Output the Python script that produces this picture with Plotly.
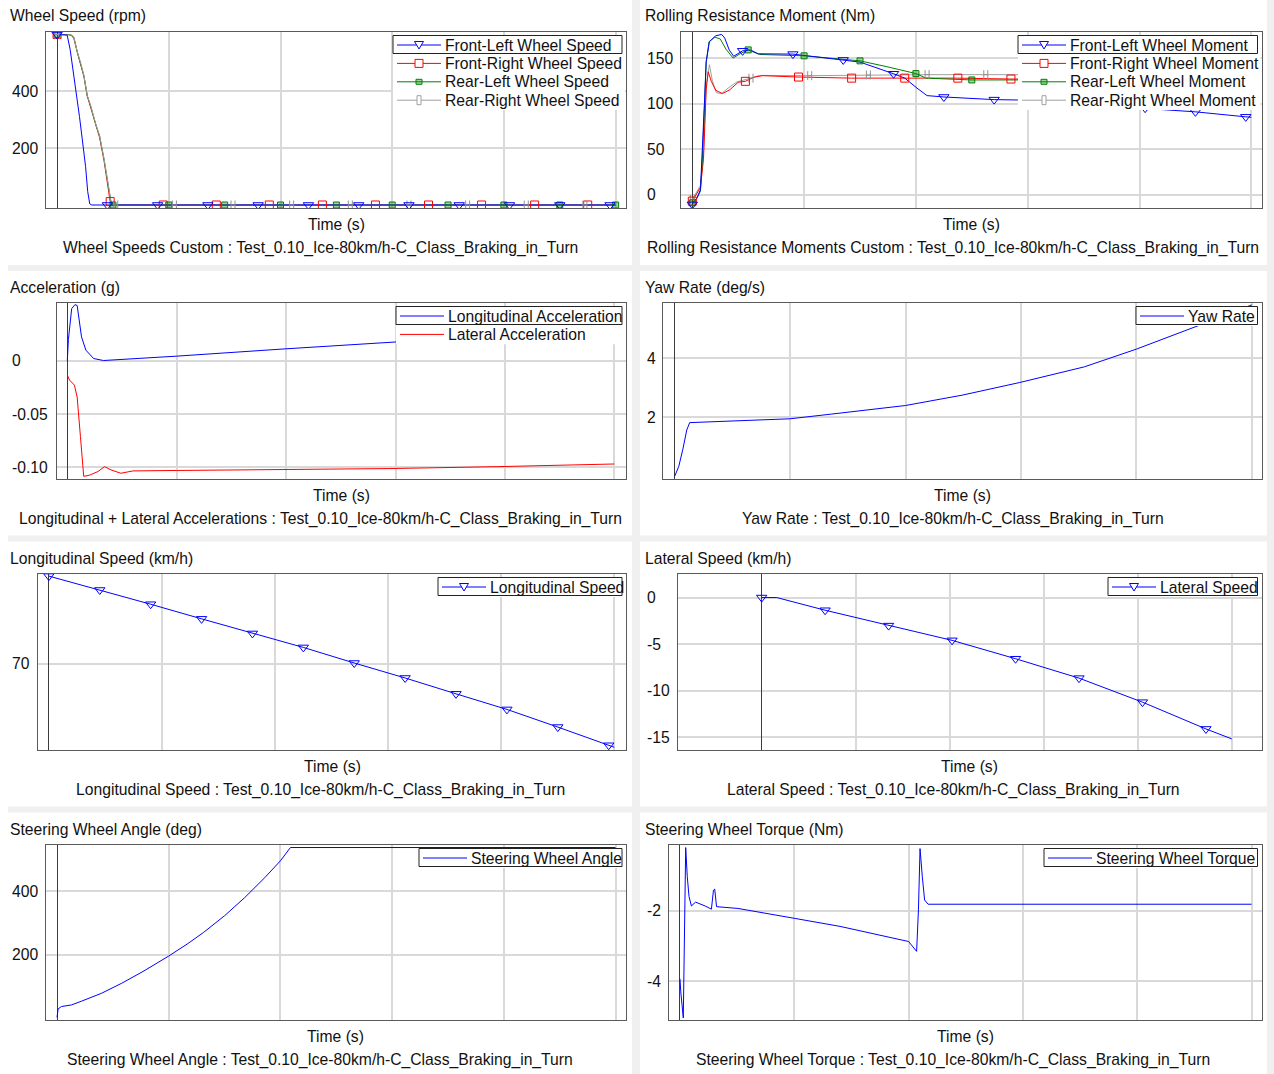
import numpy as np
import plotly.graph_objects as go

W, H = 1274, 1074
FONT = "Arial, 'Liberation Sans', sans-serif"
BLUE, RED, GREEN, GREY = "#0000ff", "#ff0000", "#008000", "#a0a0a0"
RUN = "Test_0.10_Ice-80km/h-C_Class_Braking_in_Turn"

# ---------------- data ----------------
# Wheel speeds (rpm)
ws_fl_t = [0, 0.05, 0.09, 0.117, 0.146, 0.175, 0.2, 0.226, 0.255, 0.274, 0.292, 0.31,
           0.45, 0.9, 1.35, 1.8, 2.25, 2.7, 3.15, 3.6, 4.05, 4.5, 4.95, 5.0]
ws_fl_v = [600, 600, 598, 547, 471, 394, 312, 229, 135, 47, 4, 0,
           0, 0, 0, 0, 0, 0, 0, 0, 0, 0, 0, 0]
ws_fl_mk = [0, 0.45, 0.9, 1.35, 1.8, 2.25, 2.7, 3.15, 3.6, 4.05, 4.5, 4.95]

ws_fr_t = [0, 0.1, 0.13, 0.15, 0.18, 0.21, 0.24, 0.27, 0.3, 0.35, 0.38, 0.42, 0.46, 0.475, 0.49,
           0.95, 1.425, 1.9, 2.375, 2.85, 3.325, 3.8, 4.275, 4.75, 5.0]
ws_fr_v = [600, 600, 596, 586, 540, 498, 452, 383, 345, 274, 238, 156, 62, 12, 0,
           0, 0, 0, 0, 0, 0, 0, 0, 0, 0]
ws_fr_mk = [0, 0.475, 0.95, 1.425, 1.9, 2.375, 2.85, 3.325, 3.8, 4.275, 4.75]

ws_rl_t = [0, 0.1, 0.13, 0.15, 0.18, 0.21, 0.24, 0.27, 0.3, 0.35, 0.38, 0.42, 0.46, 0.48, 0.5,
           1.0, 1.5, 2.0, 2.5, 3.0, 3.5, 4.0, 4.5, 5.0]
ws_rl_v = [600, 600, 597, 590, 538, 500, 455, 384, 349, 278, 243, 161, 67, 16, 0,
           0, 0, 0, 0, 0, 0, 0, 0, 0]
ws_rl_mk = [0, 0.5, 1.0, 1.5, 2.0, 2.5, 3.0, 3.5, 4.0, 4.5, 5.0]

ws_rr_t = [0, 0.1, 0.13, 0.15, 0.18, 0.21, 0.24, 0.27, 0.3, 0.35, 0.38, 0.42, 0.46, 0.48, 0.5,
           0.525, 1.05, 1.575, 2.1, 2.625, 3.15, 3.675, 4.2, 4.725, 5.0]
ws_rr_v = [600, 600, 598, 591, 540, 502, 456, 386, 350, 280, 245, 163, 69, 18, 0,
           0, 0, 0, 0, 0, 0, 0, 0, 0, 0]
ws_rr_mk = [0, 0.525, 1.05, 1.575, 2.1, 2.625, 3.15, 3.675, 4.2, 4.725]

# Rolling resistance moments (Nm)
rm_fl_t = [0, 0.044, 0.073, 0.09, 0.11, 0.124, 0.153, 0.21, 0.263, 0.29, 0.33, 0.37, 0.45, 0.52,
           0.59, 0.9, 1.35, 1.5, 1.8, 1.9, 2.01, 2.1, 2.25, 2.7, 2.91, 3.15, 3.6, 4.05, 4.5, 4.95, 5.0]
rm_fl_v = [-10.6, -3.3, 5.8, 46, 104, 146, 168, 174.5, 176, 172, 159, 152, 158, 159,
           154.7, 154.4, 148, 145.6, 132.8, 128, 117, 108.8, 107.3, 104.4, 104, 102, 99, 95, 91, 85.5, 85]
rm_fl_mk = [0, 0.45, 0.9, 1.35, 1.8, 2.25, 2.7, 3.15, 3.6, 4.05, 4.5, 4.95]

rm_fr_t = [0, 0.04, 0.073, 0.1, 0.124, 0.142, 0.17, 0.21, 0.27, 0.336, 0.41, 0.475, 0.55, 0.63,
           0.95, 1.425, 1.9, 2.375, 2.85, 3.325, 3.8, 4.275, 4.75, 5.0]
rm_fr_v = [-7, 2, 8, 39, 115, 135, 124.5, 114.6, 111, 115.3, 123.4, 124.5, 129, 130.7,
           129.2, 128, 128, 128, 127, 127, 127, 127, 127, 127]
rm_fr_mk = [0, 0.475, 0.95, 1.425, 1.9, 2.375, 2.85, 3.325, 3.8, 4.275, 4.75]

rm_rl_t = [0, 0.04, 0.073, 0.09, 0.11, 0.124, 0.15, 0.2, 0.25, 0.3, 0.365, 0.43, 0.5, 0.6,
           1.0, 1.5, 1.76, 2.0, 2.09, 2.5, 3.0, 3.5, 4.0, 4.5, 5.0]
rm_rl_v = [-9, -4, 4, 40, 100, 145, 168, 173, 171, 160, 150, 155, 159, 154,
           152.5, 147, 140, 133, 128, 126, 126, 126, 126, 126, 126]
rm_rl_mk = [0, 0.5, 1.0, 1.5, 2.0, 2.5, 3.0, 3.5, 4.0, 4.5, 5.0]

rm_rr_t = [0, 0.04, 0.073, 0.1, 0.124, 0.153, 0.18, 0.215, 0.26, 0.32, 0.4, 0.525, 0.6,
           1.05, 1.575, 2.1, 2.625, 3.15, 3.675, 4.2, 4.725, 5.0]
rm_rr_v = [-5, 3, 10, 45, 120, 142.7, 125, 112, 111, 117, 124, 128, 131,
           130.7, 131.4, 131.8, 131.8, 131.6, 131.5, 131.5, 131.5, 131.5]
rm_rr_mk = [0, 0.525, 1.05, 1.575, 2.1, 2.625, 3.15, 3.675, 4.2, 4.725]

# Accelerations (g)
acc_lon_t = [0, 0.01, 0.04, 0.07, 0.09, 0.13, 0.17, 0.24, 0.33, 1.0, 2.0, 3.0, 4.0, 5.0]
acc_lon_v = [0, 0.02, 0.049, 0.0528, 0.052, 0.0225, 0.010, 0.0022, 0.0003, 0.0044, 0.0113,
             0.0178, 0.0243, 0.0305]
acc_lat_t = [0, 0.02, 0.065, 0.09, 0.12, 0.15, 0.2, 0.28, 0.34, 0.4, 0.49, 0.6, 1.0, 1.59,
             2.0, 2.94, 3.93, 5.0]
acc_lat_v = [-0.0134, -0.018, -0.0228, -0.034, -0.071, -0.1085, -0.1075, -0.104, -0.0994,
             -0.1025, -0.1056, -0.1034, -0.1030, -0.1025, -0.1020, -0.1012, -0.0994, -0.0969]

# Yaw rate (deg/s)
yaw_t = [0, 0.036, 0.07, 0.105, 0.13, 0.37, 1.0, 1.36, 2.0, 2.49, 2.99, 3.55, 4.0, 4.58, 5.0]
yaw_v = [0, 0.34, 0.9, 1.57, 1.82, 1.85, 1.95, 2.11, 2.40, 2.75, 3.18, 3.71, 4.31, 5.17, 5.81]

# Longitudinal speed (km/h)
vx_t = [0, 0.45, 0.9, 1.35, 1.8, 2.25, 2.7, 3.15, 3.6, 4.05, 4.5, 4.95, 5.0]
vx_v = [79.81, 78.26, 76.67, 75.04, 73.41, 71.85, 70.11, 68.44, 66.67, 64.93, 62.96, 60.93, 60.7]
vx_mk = [0, 0.45, 0.9, 1.35, 1.8, 2.25, 2.7, 3.15, 3.6, 4.05, 4.5, 4.95]

# Lateral speed (km/h)
vy_t = [0, 0.16, 0.675, 1.35, 2.025, 2.7, 3.375, 4.05, 4.725, 5.0]
vy_v = [0, 0, -1.36, -3.01, -4.59, -6.56, -8.64, -11.22, -14.09, -15.16]
vy_mk = [0, 0.675, 1.35, 2.025, 2.7, 3.375, 4.05, 4.725]

# Steering wheel angle (deg)
swa_t = [0, 0.01, 0.04, 0.13, 0.22, 0.4, 0.58, 0.77, 1.0, 1.17, 1.31, 1.5, 1.68, 1.86, 2.0,
         2.09, 5.0]
swa_v = [3, 29.5, 37, 42, 54, 79, 110.5, 147.5, 196, 235, 270, 323, 380, 443, 496, 538, 538]

# Steering wheel torque (Nm)
swt_t = [0, 0.007, 0.029, 0.04, 0.05, 0.064, 0.079, 0.1, 0.136, 0.22, 0.275, 0.293, 0.304,
         0.32, 0.507, 1.0, 1.4, 2.0, 2.07, 2.086, 2.10, 2.12, 2.14, 2.17, 5.0]
swt_v = [-3.93, -4.3, -5.04, -2.9, -0.2, -1.03, -1.59, -1.86, -1.75, -1.86, -1.95, -1.41, -1.38,
         -1.88, -1.93, -2.21, -2.44, -2.87, -3.15, -1.97, -0.23, -1.03, -1.69, -1.81, -1.81]

# ---------------- panel layout (pixel geometry) ----------------
panels = [
    dict(box=(46, 626, 31.5, 208), xr=(-0.0994, 5.093), yr=(-10.6, 610.6),
         yt=[200, 400], ytt=["200", "400"], lab=12, tx=10, cx=320,
         title="Wheel Speed (rpm)", sub="Wheel Speeds Custom : " + RUN, leg=393,
         series=[("Front-Left Wheel Speed", ws_fl_t, ws_fl_v, BLUE, "tri", ws_fl_mk),
                 ("Front-Right Wheel Speed", ws_fr_t, ws_fr_v, RED, "sq", ws_fr_mk),
                 ("Rear-Left Wheel Speed", ws_rl_t, ws_rl_v, GREEN, "gsq", ws_rl_mk),
                 ("Rear-Right Wheel Speed", ws_rr_t, ws_rr_v, GREY, "bar", ws_rr_mk)],
         order=[1, 2, 3, 0]),
    dict(box=(680.5, 1261.5, 31.5, 208), xr=(-0.1055, 5.091), yr=(-14.6, 179.2),
         yt=[0, 50, 100, 150], ytt=["0", "50", "100", "150"], lab=647, tx=645, cx=953,
         title="Rolling Resistance Moment (Nm)", sub="Rolling Resistance Moments Custom : " + RUN,
         leg=1018,
         series=[("Front-Left Wheel Moment", rm_fl_t, rm_fl_v, BLUE, "tri", rm_fl_mk),
                 ("Front-Right Wheel Moment", rm_fr_t, rm_fr_v, RED, "sq", rm_fr_mk),
                 ("Rear-Left Wheel Moment", rm_rl_t, rm_rl_v, GREEN, "gsq", rm_rl_mk),
                 ("Rear-Right Wheel Moment", rm_rr_t, rm_rr_v, GREY, "bar", rm_rr_mk)],
         order=[3, 1, 2, 0]),
    dict(box=(57, 626, 302.5, 479), xr=(-0.0942, 5.107), yr=(-0.111, 0.0548),
         yt=[-0.10, -0.05, 0], ytt=["-0.10", "-0.05", "0"], lab=12, tx=10, cx=320,
         title="Acceleration (g)", sub="Longitudinal + Lateral Accelerations : " + RUN, leg=396,
         series=[("Longitudinal Acceleration", acc_lon_t, acc_lon_v, BLUE, None, None),
                 ("Lateral Acceleration", acc_lat_t, acc_lat_v, RED, None, None)],
         order=[0, 1]),
    dict(box=(663, 1261.5, 302.5, 479), xr=(-0.101, 5.084), yr=(-0.09, 5.89),
         yt=[2, 4], ytt=["2", "4"], lab=647, tx=645, cx=953,
         title="Yaw Rate (deg/s)", sub="Yaw Rate : " + RUN, leg=1136,
         series=[("Yaw Rate", yaw_t, yaw_v, BLUE, None, None)], order=[0]),
    dict(box=(38, 626, 573.5, 750), xr=(-0.096, 5.103), yr=(60.4, 80.1),
         yt=[70], ytt=["70"], lab=12, tx=10, cx=320,
         title="Longitudinal Speed (km/h)", sub="Longitudinal Speed : " + RUN, leg=438,
         series=[("Longitudinal Speed", vx_t, vx_v, BLUE, "tri", vx_mk)], order=[0]),
    dict(box=(678, 1261.5, 573.5, 750), xr=(-0.890, 5.316), yr=(-16.35, 2.58),
         yt=[-15, -10, -5, 0], ytt=["-15", "-10", "-5", "0"], lab=647, tx=645, cx=953,
         title="Lateral Speed (km/h)", sub="Lateral Speed : " + RUN, leg=1108,
         series=[("Lateral Speed", vy_t, vy_v, BLUE, "tri", vy_mk)], order=[0]),
    dict(box=(45.5, 626, 844.5, 1020), xr=(-0.103, 5.094), yr=(-5.4, 547.5),
         yt=[200, 400], ytt=["200", "400"], lab=12, tx=10, cx=320,
         title="Steering Wheel Angle (deg)", sub="Steering Wheel Angle : " + RUN, leg=419,
         series=[("Steering Wheel Angle", swa_t, swa_v, BLUE, None, None)], order=[0]),
    dict(box=(669, 1261.5, 844.5, 1020), xr=(-0.096, 5.087), yr=(-5.10, -0.113),
         yt=[-4, -2], ytt=["-4", "-2"], lab=647, tx=645, cx=953,
         title="Steering Wheel Torque (Nm)", sub="Steering Wheel Torque : " + RUN, leg=1044,
         series=[("Steering Wheel Torque", swt_t, swt_v, BLUE, None, None)], order=[0]),
]

# annotations carry a small inner padding; left-anchored texts are nudged back by it
PAD = 2


def px(x):
    return x / W


def py(y):
    return 1 - y / H


def at_marks(t, v, marks):
    t = np.asarray(t, float)
    v = np.asarray(v, float)
    idx = [int(np.argmin(np.abs(t - m))) for m in marks]
    return t[idx], v[idx]


fig = go.Figure()
shapes, annotations = [], []
layout = {}

txt = dict(family=FONT, size=15.7, color="#111111")

# light grey gutters between the panels
for (x0, x1, y0, y1) in [(632, 640, 0, H), (8, W, 265, 271), (8, W, 535.5, 541.5),
                         (8, W, 806.5, 812.5), (1267, W, 0, H)]:
    shapes.append(dict(type="rect", xref="paper", yref="paper", x0=px(x0), x1=px(x1),
                       y0=py(y1), y1=py(y0), fillcolor="#f0f0f0", line=dict(width=0),
                       layer="below"))

marker_style = {
    "tri": dict(symbol="triangle-down-open", size=9, color=BLUE, line=dict(width=1)),
    "sq": dict(symbol="square-open", size=8, color=RED, line=dict(width=1)),
    "gsq": dict(symbol="square", size=6, color="rgba(0,128,0,0.35)",
                line=dict(color=GREEN, width=1)),
}

for i, p in enumerate(panels, start=1):
    xn = "x" if i == 1 else f"x{i}"
    yn = "y" if i == 1 else f"y{i}"
    xl = "xaxis" if i == 1 else f"xaxis{i}"
    yl = "yaxis" if i == 1 else f"yaxis{i}"
    bl, br, bt, bb = p["box"]

    layout[xl] = dict(domain=[px(bl), px(br)], range=list(p["xr"]), anchor=yn,
                      tickvals=[1, 2, 3, 4, 5], showticklabels=False, ticks="",
                      showgrid=True, gridcolor="#d9d9d9", gridwidth=1.5,
                      zeroline=True, zerolinecolor="#3c3c3c", zerolinewidth=1,
                      showline=True, mirror=True, linecolor="#5a5a5a", linewidth=1,
                      fixedrange=True)
    layout[yl] = dict(domain=[py(bb), py(bt)], range=list(p["yr"]), anchor=xn,
                      tickvals=p["yt"], showticklabels=False, ticks="",
                      showgrid=True, gridcolor="#d9d9d9", gridwidth=1.5,
                      zeroline=False, showline=True, mirror=True, linecolor="#5a5a5a",
                      linewidth=1, fixedrange=True)

    # width of one pixel in time units, used for the narrow rectangle symbols
    t_per_px = (p["xr"][1] - p["xr"][0]) / (br - bl)

    # curves
    for k in p["order"]:
        name, t, v, col, mk, marks = p["series"][k]
        fig.add_trace(go.Scatter(x=t, y=v, mode="lines", name=name,
                                 line=dict(color=col, width=1), xaxis=xn, yaxis=yn,
                                 showlegend=False, hoverinfo="skip"))
    # symbols on the curves
    for k in p["order"]:
        name, t, v, col, mk, marks = p["series"][k]
        if not mk:
            continue
        mx, my = at_marks(t, v, marks)
        if mk == "bar":
            # tall narrow open rectangle: two vertical caps 4 px apart
            fig.add_trace(go.Scatter(x=mx, y=my, mode="markers",
                                     marker=dict(size=1, color="rgba(0,0,0,0)"),
                                     error_x=dict(type="constant", value=2 * t_per_px,
                                                  color="#909090", thickness=1, width=4.5),
                                     xaxis=xn, yaxis=yn, showlegend=False, hoverinfo="skip"))
        else:
            fig.add_trace(go.Scatter(x=mx, y=my, mode="markers", marker=marker_style[mk],
                                     xaxis=xn, yaxis=yn, showlegend=False, hoverinfo="skip"))

    # y tick labels, left aligned
    for val, lab in zip(p["yt"], p["ytt"]):
        annotations.append(dict(x=px(p["lab"] - PAD), xref="paper", y=val, yref=yn, text=lab,
                                showarrow=False, xanchor="left", yanchor="middle", font=txt))

    # titles
    annotations.append(dict(x=px(p["tx"] - PAD), y=py(bt - 15.5), xref="paper", yref="paper",
                            text=p["title"], showarrow=False, xanchor="left",
                            yanchor="middle", font=txt))
    annotations.append(dict(x=px((bl + br) / 2), y=py(bb + 16), xref="paper", yref="paper",
                            text="Time (s)", showarrow=False, xanchor="center",
                            yanchor="middle", font=txt))
    annotations.append(dict(x=px(p["cx"]), y=py(bb + 40), xref="paper", yref="paper",
                            text=p["sub"], showarrow=False, xanchor="center",
                            yanchor="middle", font=txt))

    # legend box drawn on top of the curves
    lx = p["leg"]
    top = bt + 4
    step = 18.4
    n = len(p["series"])
    shapes.append(dict(type="rect", xref="paper", yref="paper", x0=px(lx), x1=px(br - 1),
                       y0=py(top + n * step + 1), y1=py(top), fillcolor="white",
                       line=dict(width=0), layer="above"))
    shapes.append(dict(type="rect", xref="paper", yref="paper", x0=px(lx), x1=px(br - 4),
                       y0=py(top + 18), y1=py(top), fillcolor="rgba(0,0,0,0)",
                       line=dict(color="#222222", width=1), layer="above"))
    for k, (name, t, v, col, mk, marks) in enumerate(p["series"]):
        cy = top + 9.5 + step * k
        shapes.append(dict(type="line", xref="paper", yref="paper", x0=px(lx + 4),
                           x1=px(lx + 48), y0=py(cy), y1=py(cy),
                           line=dict(color=col, width=1), layer="above"))
        gx = lx + 26
        if mk == "tri":
            path = "M {:.5f},{:.5f} L {:.5f},{:.5f} L {:.5f},{:.5f} Z".format(
                px(gx - 4.5), py(cy - 3.5), px(gx + 4.5), py(cy - 3.5), px(gx), py(cy + 4))
            shapes.append(dict(type="path", xref="paper", yref="paper", path=path,
                               fillcolor="white", line=dict(color=col, width=1), layer="above"))
        elif mk in ("sq", "gsq", "bar"):
            hw, hh, fill = {"sq": (4, 4, "white"), "gsq": (3, 2.5, "rgba(0,128,0,0.35)"),
                            "bar": (2, 4.5, "white")}[mk]
            shapes.append(dict(type="rect", xref="paper", yref="paper", x0=px(gx - hw),
                               x1=px(gx + hw), y0=py(cy + hh), y1=py(cy - hh),
                               fillcolor=fill, line=dict(color=col, width=1), layer="above"))
        annotations.append(dict(x=px(lx + 52 - PAD), y=py(cy), xref="paper", yref="paper",
                                text=name, showarrow=False, xanchor="left", yanchor="middle",
                                height=17, font=txt))

fig.update_layout(width=W, height=H, autosize=False, margin=dict(l=0, r=0, t=0, b=0),
                  paper_bgcolor="white", plot_bgcolor="white", showlegend=False,
                  shapes=shapes, annotations=annotations, font=dict(family=FONT), **layout)

fig.write_html("out.html")
